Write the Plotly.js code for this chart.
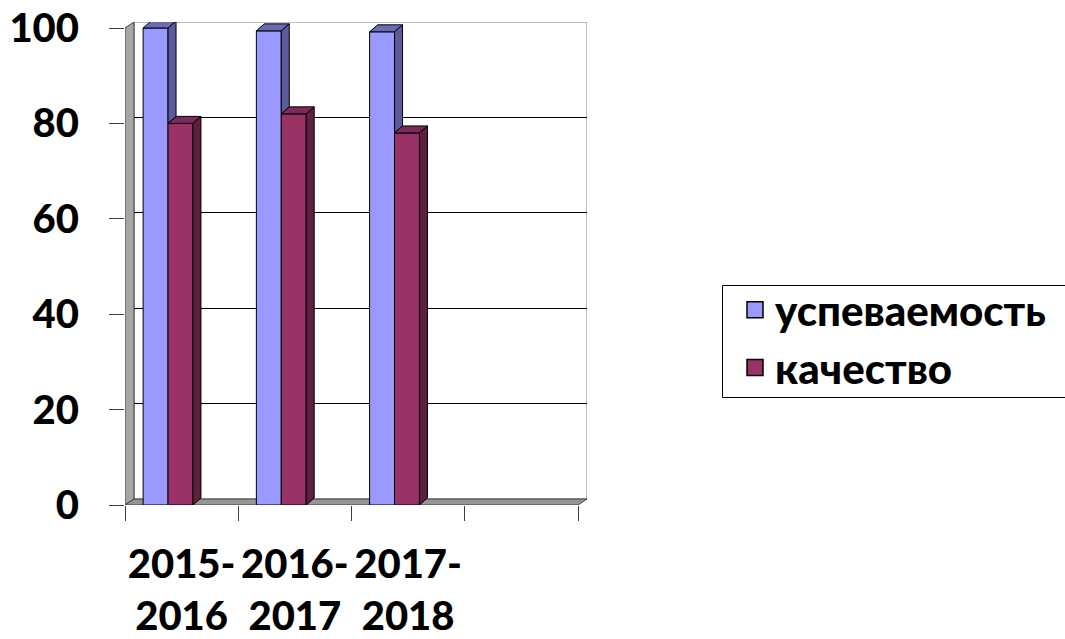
<!DOCTYPE html>
<html><head><meta charset="utf-8">
<script src="https://cdn.plot.ly/plotly-3.0.1.min.js"></script>
<style>html,body{margin:0;padding:0;background:#fff}#chart{width:1065px;height:639px}</style>
</head><body><div id="chart"></div>
<script>
// ---- data ----
const categories = ['2015-<br>2016', '2016-<br>2017', '2017-<br>2018'];
const seriesNames = ['успеваемость', 'качество'];
const uspevaemost = [100, 99.4, 99.2];
const kachestvo = [80, 82, 78];
const yTickVals = [0, 20, 40, 60, 80, 100];

// ---- geometry / style ----
const W = 1065, H = 639;
const plotL = 125, plotR = 578, plotTop = 28, plotBot = 505;
const nSlots = 4;                       // 3 categories + one empty slot
const wallDepthPx = [9, 6];
const barDepthPx = [8, 7];
const pxPerX = (plotR - plotL) / nSlots;
const pxPerY = (plotBot - plotTop) / 100;
const dX = wallDepthPx[0] / pxPerX, dY = wallDepthPx[1] / pxPerY;
const bX = barDepthPx[0] / pxPerX, bY = barDepthPx[1] / pxPerY;
const barW = 0.22, offsets = [-0.34, -0.12];
const frontCol = ['#9999ff', '#993366'];
const topCol = ['#6b6bb5', '#7d2a58'];
const sideCol = ['#5c5c9c', '#5e1f42'];
const FONT = 'Lato, "Open Sans", "DejaVu Sans", sans-serif';
const FW = 900;
const series = [uspevaemost, kachestvo];
const centers = categories.map((c, i) => i + 0.5);

const traces = [];
// invisible host so the overlay axis (back-wall grid) is drawn
traces.push({type: 'scatter', x: [null], y: [null], yaxis: 'y2', showlegend: false, hoverinfo: 'skip'});
// front faces: bar traces
series.forEach((vals, s) => {
  traces.push({
    type: 'bar', x: centers, y: vals, width: barW, offset: offsets[s],
    marker: {color: frontCol[s], line: {color: '#000', width: 1}},
    name: seriesNames[s], showlegend: false, hoverinfo: 'skip'
  });
});
// 3D top and side faces derived from the data
centers.forEach((c, i) => {
  series.forEach((vals, s) => {
    const v = vals[i];
    const xl = c + offsets[s], xr = xl + barW;
    const next = series[s + 1];
    const bottom = next ? next[i] : 0;
    traces.push({
      type: 'scatter', mode: 'lines', fill: 'toself', fillcolor: topCol[s],
      line: {color: '#000', width: 1}, hoverinfo: 'skip', showlegend: false,
      x: [xl, xr, xr + bX, xl + bX, xl], y: [v, v, v + bY, v + bY, v]
    });
    traces.push({
      type: 'scatter', mode: 'lines', fill: 'toself', fillcolor: sideCol[s],
      line: {color: '#000', width: 1}, hoverinfo: 'skip', showlegend: false,
      x: [xr, xr + bX, xr + bX, xr, xr], y: [bottom, bottom + bY, v + bY, v, bottom]
    });
  });
});
// legend entries
series.forEach((vals, s) => {
  traces.push({
    type: 'scatter', mode: 'markers', x: [null], y: [null], name: seriesNames[s],
    marker: {symbol: 'square', size: 16, color: frontCol[s], line: {color: '#000', width: 1.5}},
    hoverinfo: 'skip'
  });
});

const shapes = [
  // back wall border
  {type: 'rect', xref: 'x', yref: 'y', x0: dX, x1: nSlots + dX, y0: dY, y1: 100 + dY,
   line: {color: '#808080', width: 1}, fillcolor: 'rgba(0,0,0,0)', layer: 'below'},
  // left wall
  {type: 'path', xref: 'x', yref: 'y', layer: 'between',
   path: `M0,0 L${dX},${dY} L${dX},${100 + dY} L0,100 Z`,
   fillcolor: '#a6a6a6', line: {color: '#404040', width: 1}},
  // floor
  {type: 'path', xref: 'x', yref: 'y', layer: 'between',
   path: `M0,0 L${nSlots},0 L${nSlots + dX},${dY} L${dX},${dY} Z`,
   fillcolor: '#969696', line: {color: '#404040', width: 1}},
  // legend frame (runs past the right edge as in the reference)
  {type: 'rect', xref: 'paper', yref: 'paper', layer: 'above',
   x0: 722.5 / W, x1: 1075 / W, y0: 1 - 397.5 / H, y1: 1 - 285.5 / H,
   line: {color: '#000', width: 1}, fillcolor: 'rgba(0,0,0,0)'}
];

const bigFont = {family: FONT, size: 40, color: '#000', weight: FW};
const layout = {
  width: W, height: H,
  margin: {l: 0, r: 0, t: 0, b: 0, autoexpand: false},
  paper_bgcolor: '#fff', plot_bgcolor: 'rgba(0,0,0,0)',
  showlegend: true, hovermode: false, barmode: 'overlay',
  font: bigFont,
  xaxis: {
    domain: [plotL / W, (plotR + wallDepthPx[0]) / W],
    range: [0, nSlots + dX], type: 'linear',
    tickmode: 'array', tickvals: centers, ticktext: categories,
    ticks: '', showgrid: false, zeroline: false, showline: false,
    tickfont: bigFont,
    ticklabelstandoff: 32,
    minor: {tickmode: 'array', tickvals: [0, 1, 2, 3, 4], ticks: 'outside', ticklen: 15,
            tickwidth: 1, tickcolor: '#404040', showgrid: false}
  },
  yaxis: {
    domain: [1 - plotBot / H, 1 - (plotTop - wallDepthPx[1]) / H],
    range: [0, 100 + dY], tickmode: 'array', tickvals: yTickVals,
    ticks: 'outside', ticklen: 15, tickwidth: 1, tickcolor: '#404040',
    showgrid: false, zeroline: false, showline: false,
    tickfont: bigFont,
    ticklabelstandoff: 22
  },
  yaxis2: {
    overlaying: 'y', range: [-dY, 100], tickmode: 'array', tickvals: yTickVals,
    showgrid: true, gridcolor: '#000', gridwidth: 1, showticklabels: false,
    ticks: '', zeroline: false, showline: false
  },
  legend: {
    x: 735 / W, y: 1 - 276 / H, xanchor: 'left', yanchor: 'top',
    borderwidth: 0, bgcolor: 'rgba(0,0,0,0)',
    tracegroupgap: 0,
    font: {family: FONT, size: 42, color: '#000', weight: FW},
    itemclick: false, itemdoubleclick: false
  },
  shapes: shapes
};

Plotly.newPlot('chart', traces, layout, {staticPlot: true});
</script></body></html>
